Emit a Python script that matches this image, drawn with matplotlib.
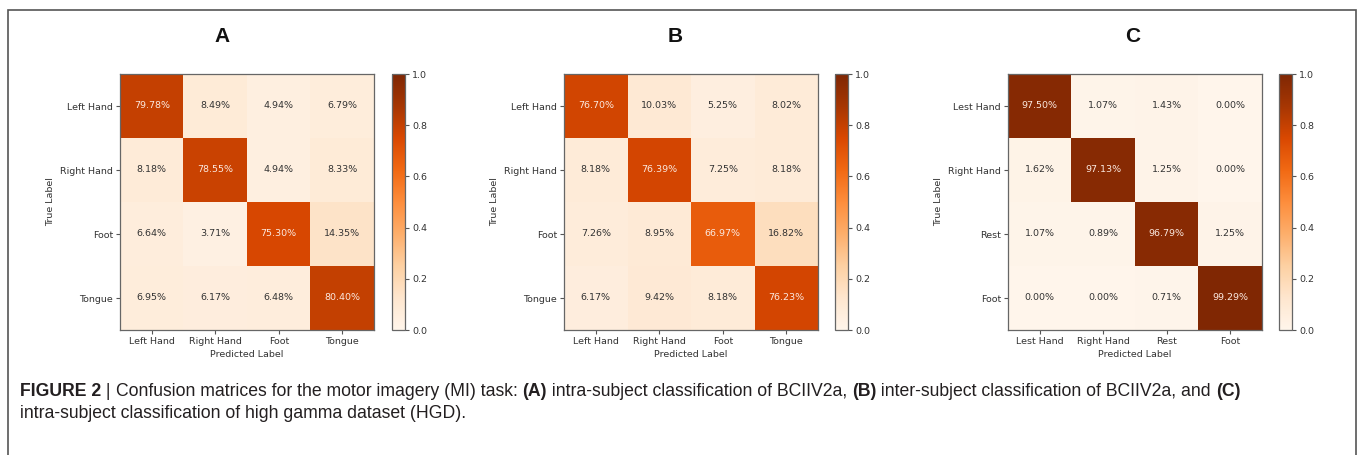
import numpy as np
import matplotlib
matplotlib.use("Agg")
import matplotlib.pyplot as plt
from matplotlib.patches import Rectangle

# --- data ---
labels_a = ["Left Hand", "Right Hand", "Foot", "Tongue"]
labels_b = ["Left Hand", "Right Hand", "Foot", "Tongue"]
labels_c = ["Lest Hand", "Right Hand", "Rest", "Foot"]

cm_a = [[79.78, 8.49, 4.94, 6.79],
        [8.18, 78.55, 4.94, 8.33],
        [6.64, 3.71, 75.30, 14.35],
        [6.95, 6.17, 6.48, 80.40]]
cm_b = [[76.70, 10.03, 5.25, 8.02],
        [8.18, 76.39, 7.25, 8.18],
        [7.26, 8.95, 66.97, 16.82],
        [6.17, 9.42, 8.18, 76.23]]
cm_c = [[97.50, 1.07, 1.43, 0.00],
        [1.62, 97.13, 1.25, 0.00],
        [1.07, 0.89, 96.79, 1.25],
        [0.00, 0.00, 0.71, 99.29]]

panel_titles = ["A", "B", "C"]
cbar_ticks = [0.0, 0.2, 0.4, 0.6, 0.8, 1.0]

W, H = 1358, 455
fig = plt.figure(figsize=(W / 100, H / 100), dpi=100)

def px(x0, y0, x1, y1):
    # pixel box (top-left origin) -> figure fraction
    return [x0 / W, 1 - y1 / H, (x1 - x0) / W, (y1 - y0) / H]

# frame round the figure
fig.patches.append(Rectangle((7.5 / W, -0.1), (1356 - 7.5) / W, 1.1 - 10.5 / H,
                             transform=fig.transFigure, fill=False,
                             edgecolor="#555555", linewidth=1.2))

# (matrix, labels, axes left px, colorbar left px, title centre px)
panels = [(cm_a, labels_a, 120, 392, 222),
          (cm_b, labels_b, 564, 835, 675),
          (cm_c, labels_c, 1008, 1279, 1133)]
small = 6.8
for (cm, labels, ax_x, cb_x, t_x), title in zip(panels, panel_titles):
    data = np.array(cm) / 100.0
    ax = fig.add_axes(px(ax_x, 74, ax_x + 254, 330))
    im = ax.imshow(data, cmap="Oranges", vmin=0, vmax=1, aspect="auto",
                   interpolation="nearest")
    n = len(labels)
    for i in range(n):
        for j in range(n):
            col = "#fbe9e0" if i == j else "#333333"
            ax.text(j, i, "%.2f%%" % cm[i][j], ha="center", va="center",
                    fontsize=small, color=col)
    ax.set_xticks(range(n))
    ax.set_yticks(range(n))
    ax.set_xticklabels(labels, fontsize=small, color="#333333")
    ax.set_yticklabels(labels, fontsize=small, color="#333333")
    ax.tick_params(length=3, width=0.8, pad=2, color="#555555")
    ax.set_xlabel("Predicted Label", fontsize=small, color="#333333", labelpad=3)
    ax.set_ylabel("True Label", fontsize=small, color="#333333", labelpad=4)
    for s in ax.spines.values():
        s.set_edgecolor("#666666")
        s.set_linewidth(0.9)

    cax = fig.add_axes(px(cb_x, 74, cb_x + 13, 330))
    cb = fig.colorbar(im, cax=cax, ticks=cbar_ticks)
    cb.ax.tick_params(labelsize=small, length=3, width=0.8, pad=2,
                      color="#555555", labelcolor="#333333")
    cb.outline.set_edgecolor("#666666")
    cb.outline.set_linewidth(0.9)

    fig.text(t_x / W, 1 - 37 / H, title, ha="center", va="center",
             fontsize=15, fontweight="bold", family=["Liberation Sans", "DejaVu Sans"],
             color="#111111")

# caption, drawn piece by piece so bold parts can sit inline
cap_font = ["Liberation Sans Narrow", "Liberation Sans", "DejaVu Sans"]
cap_size = 12.7
line1 = [("FIGURE 2", "bold"), (" | ", "normal"),
         ("Confusion matrices for the motor imagery (MI) task: ", "normal"),
         ("(A)", "bold"), (" intra-subject classification of BCIIV2a, ", "normal"),
         ("(B)", "bold"), (" inter-subject classification of BCIIV2a, and ", "normal"),
         ("(C)", "bold")]
line2 = [("intra-subject classification of high gamma dataset (HGD).", "normal")]

renderer = fig.canvas.get_renderer()
for parts, y in [(line1, 391), (line2, 413)]:
    x = 20
    for txt, wt in parts:
        t = fig.text(x / W, 1 - y / H, txt, ha="left", va="center",
                     fontsize=cap_size, fontweight=wt, family=cap_font,
                     color="#231f20")
        bb = t.get_window_extent(renderer=renderer)
        x += bb.width

fig.savefig("out.png", dpi=100)
